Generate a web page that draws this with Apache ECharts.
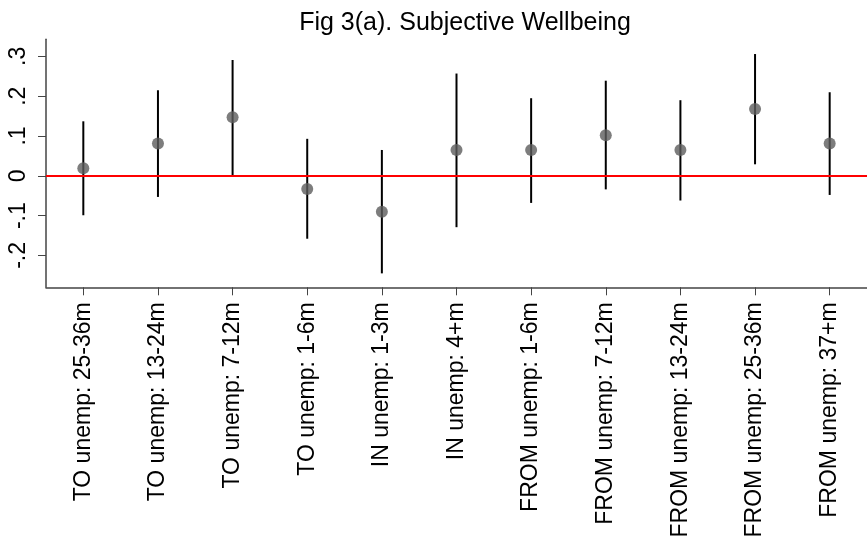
<!DOCTYPE html>
<html>
<head>
<meta charset="utf-8">
<script src="https://cdn.jsdelivr.net/npm/echarts@6/dist/echarts.min.js"></script>
<style>html,body{margin:0;padding:0;background:#fff;}#c{width:867px;height:544px;}</style>
</head>
<body>
<div id="c"></div>
<script>
const categories = [
  "TO unemp: 25-36m", "TO unemp: 13-24m", "TO unemp: 7-12m", "TO unemp: 1-6m",
  "IN unemp: 1-3m", "IN unemp: 4+m",
  "FROM unemp: 1-6m", "FROM unemp: 7-12m", "FROM unemp: 13-24m", "FROM unemp: 25-36m", "FROM unemp: 37+m"
];
const estimates = [0.019, 0.081, 0.147, -0.033, -0.090, 0.065, 0.065, 0.102, 0.065, 0.168, 0.081];
const lower     = [-0.099, -0.053, 0.000, -0.158, -0.245, -0.129, -0.068, -0.034, -0.062, 0.029, -0.048];
const upper     = [0.137, 0.215, 0.291, 0.093, 0.065, 0.257, 0.195, 0.239, 0.190, 0.306, 0.210];
const yTicks    = [-0.2, -0.1, 0, 0.1, 0.2, 0.3];
const yTickLabels = ["-.2", "-.1", "0", ".1", ".2", ".3"];

const FONT = "'Liberation Sans', Arial, Helvetica, sans-serif";
const chart = echarts.init(document.getElementById('c'), null, {renderer: 'canvas'});
const ciData = categories.map((c, i) => [i, lower[i], upper[i]]);

chart.setOption({
  animation: false,
  backgroundColor: '#ffffff',
  title: {
    text: 'Fig 3(a). Subjective Wellbeing',
    left: 460, top: 6, textAlign: 'center',
    textStyle: {fontFamily: FONT, fontSize: 25, fontWeight: 'normal', color: '#000'}
  },
  grid: {left: 46, right: -12, top: 39.3, bottom: 256.7, containLabel: false},
  xAxis: {
    type: 'category', data: categories, boundaryGap: true,
    axisLine: {show: true, onZero: false, lineStyle: {color: '#444', width: 1.5}},
    axisTick: {show: true, alignWithLabel: true, length: 8, lineStyle: {color: '#444', width: 1}},
    axisLabel: {rotate: 90, margin: 15, interval: 0, fontFamily: FONT, fontSize: 23, color: '#000'},
    splitLine: {show: false}
  },
  yAxis: {
    type: 'value', min: -0.28, max: 0.343,
    axisLine: {show: true, onZero: false, lineStyle: {color: '#444', width: 1.5}},
    axisTick: {show: true, length: 8, customValues: yTicks, lineStyle: {color: '#444', width: 1}},
    axisLabel: {
      rotate: 90, margin: 16, customValues: yTicks, fontFamily: FONT, fontSize: 23, color: '#000',
      formatter: v => { const k = yTicks.findIndex(t => Math.abs(t - v) < 1e-9); return k >= 0 ? yTickLabels[k] : ''; }
    },
    splitLine: {show: false}
  },
  series: [
    {
      type: 'line', data: [], silent: true,
      markLine: {
        silent: true, symbol: ['none', 'none'], label: {show: false},
        lineStyle: {color: '#ff0000', width: 2, type: 'solid'},
        data: [{yAxis: 0}]
      },
      z: 1
    },
    {
      type: 'custom', data: ciData, z: 2,
      renderItem: (params, api) => {
        const p1 = api.coord([api.value(0), api.value(1)]);
        const p2 = api.coord([api.value(0), api.value(2)]);
        return {type: 'line', shape: {x1: p1[0], y1: p1[1], x2: p2[0], y2: p2[1]},
                style: {stroke: '#000', lineWidth: 2}};
      },
      encode: {x: 0, y: [1, 2]}
    },
    {
      type: 'scatter', data: estimates, symbol: 'circle', symbolSize: 12, z: 3,
      itemStyle: {color: '#5c5c5c'}
    }
  ]
});
</script>
</body>
</html>
